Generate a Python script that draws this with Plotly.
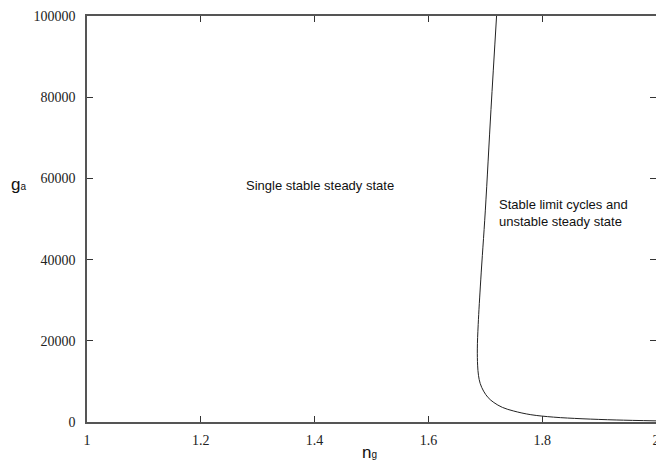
import plotly.graph_objects as go

# Hopf boundary curve
n_g = [1.7198, 1.710, 1.700, 1.692, 1.6875, 1.686, 1.6865, 1.688, 1.691, 1.697,
       1.705, 1.715, 1.730, 1.750, 1.780, 1.820, 1.870, 1.930, 2.000]
g_a = [100000, 77000, 52000, 35000, 24000, 18000, 14000, 11500, 9500, 7600,
       6000, 4800, 3600, 2700, 1800, 1200, 800, 500, 280]

x_ticks = [1, 1.2, 1.4, 1.6, 1.8, 2]
x_tick_labels = ["1", "1.2", "1.4", "1.6", "1.8", "2"]
y_ticks = [0, 20000, 40000, 60000, 80000, 100000]
y_tick_labels = ["0", "20000", "40000", "60000", "80000", "100000"]

fig = go.Figure()
fig.add_trace(go.Scatter(x=n_g, y=g_a, mode="lines",
                         line=dict(color="#222222", width=1, shape="spline"),
                         hoverinfo="skip", showlegend=False))

axis_common = dict(showline=True, linecolor="#555555", linewidth=1.5,
                   mirror="ticks", ticks="inside", ticklen=6, tickwidth=1,
                   tickcolor="#333333", showgrid=False, zeroline=False,
                   automargin=False, ticklabeloverflow="allow",
                   tickfont=dict(family="Liberation Serif", size=14, color="#222222"))

fig.update_xaxes(range=[1, 2], tickvals=x_ticks, ticktext=x_tick_labels,
                 ticklabelstandoff=4, **axis_common)
fig.update_yaxes(range=[0, 100000], tickvals=y_ticks, ticktext=y_tick_labels,
                 ticklabelstandoff=7, **axis_common)

annot_font = dict(family="Liberation Sans", size=13, color="#111111")
fig.add_annotation(x=1.4095, y=58374, xref="x", yref="y",
                   text="Single stable steady state", showarrow=False,
                   font=annot_font)
fig.add_annotation(x=1.7205, y=51478, xref="x", yref="y", xanchor="left",
                   align="left",
                   text="Stable limit cycles and<br>unstable steady state",
                   showarrow=False, font=annot_font)
fig.add_annotation(x=-0.121, y=0.584, xref="paper", yref="paper",
                   xanchor="center", yanchor="middle",
                   text="g<span style='font-size:10px'>a</span>", showarrow=False,
                   font=dict(family="Liberation Sans", size=17, color="#111111"))
fig.add_annotation(x=0.497, y=-0.074, xref="paper", yref="paper",
                   xanchor="center", yanchor="middle",
                   text="n<span style='font-size:10px'>g</span>", showarrow=False,
                   font=dict(family="Liberation Sans", size=17, color="#111111"))

fig.update_layout(width=656, height=468,
                  margin=dict(l=87, r=0, t=16, b=46),
                  plot_bgcolor="white", paper_bgcolor="white")

fig.write_html("out.html", config={"displayModeBar": False},
               post_script="document.body.style.margin='0';"
                           "document.body.style.overflow='hidden';")
